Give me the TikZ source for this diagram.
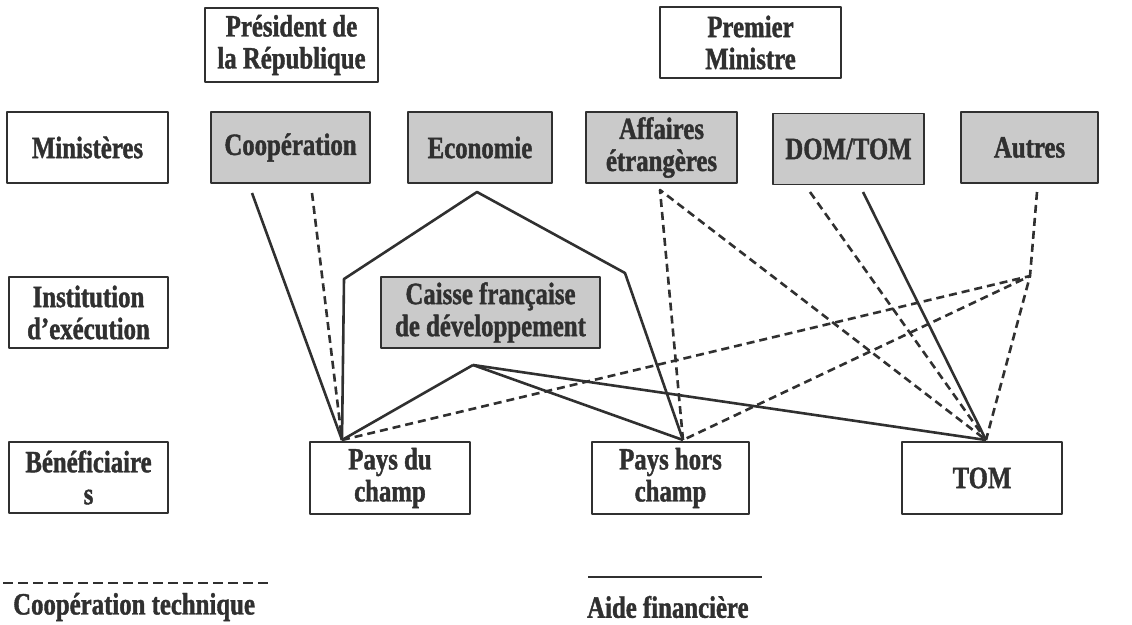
\documentclass[tikz,border=0pt]{standalone}
\usepackage{fontspec}
\setmainfont{Liberation Serif}[FakeStretch=0.8, BoldFeatures={FakeBold=1.3}]
\usepackage{tikz}
\usetikzlibrary{positioning}
\definecolor{boxgray}{RGB}{202,202,202}
\definecolor{linegray}{RGB}{48,48,48}

\tikzset{
  kasten/.style={draw=linegray, line width=1.4pt, align=center, inner sep=2pt,
    minimum height=71pt, text=linegray, font=\fontsize{31}{32}\selectfont\bfseries},
  grau/.style={kasten, fill=boxgray},
  tech/.style={draw=linegray, line width=2.6pt, dash pattern=on 8pt off 5pt},
  fin/.style={draw=linegray, line width=2.6pt},
  legtext/.style={text=linegray, inner sep=0pt, font=\fontsize{31}{32}\selectfont\bfseries}
}

\begin{document}
\begin{tikzpicture}[x=1pt, y=-1pt, line join=round]
  \useasboundingbox (0,0) rectangle (1132,624);
  % Spitze
  \node[kasten, minimum width=173pt, minimum height=74pt] (praes) at (291.5,45) {Président de\\la République};
  \node[kasten, minimum width=181pt] (pm) at (750.5,42.5) {Premier\\Ministre};
  % Zeilen links
  \node[kasten, minimum width=161pt] (lmin) at (87.5,147.5) {Ministères};
  \node[kasten, minimum width=159pt] (linst) at (88.5,312.5) {Institution\\d’exécution};
  \node[kasten, minimum width=159pt] (lbenef) at (88.5,477.5) {Bénéficiaire\\s};
  % Ministerien
  \node[grau, minimum width=159pt] (coop) at (290.5,147.5) {Coopération};
  \node[grau, minimum width=144pt] (eco) at (480,147.5) {Economie};
  \node[grau, minimum width=151pt] (ae) at (661.5,147.5) {Affaires\\étrangères};
  \node[grau, minimum width=151pt] (dom) at (848.5,149) {DOM/TOM};
  \node[grau, minimum width=137pt] (autres) at (1029.5,147.5) {Autres};
  % Institution
  \node[grau, minimum width=219pt] (cfd) at (490.5,312.5) {Caisse française\\de développement};
  % Empfaenger
  \node[kasten, minimum width=160pt, minimum height=72pt] (pdc) at (390,478) {Pays du\\champ};
  \node[kasten, minimum width=157pt, minimum height=72pt] (phc) at (670.5,478) {Pays hors\\champ};
  \node[kasten, minimum width=160pt, minimum height=72pt] (tom) at (982,478) {TOM};
  % Anschlusspunkte
  \coordinate (coopA) at (252,193);
  \coordinate (coopB) at (312,193);
  \coordinate (ecoA) at (477,192);
  \coordinate (ecoL) at (344,279);
  \coordinate (ecoR) at (625,273);
  \coordinate (aeA) at (660,190);
  \coordinate (domA) at (810,192);
  \coordinate (domB) at (863,192);
  \coordinate (autA) at (1037,192);
  \coordinate (autK) at (1030,276);
  \coordinate (cfdA) at (473,365);
  \coordinate (pdcT) at (342,440);
  \coordinate (phcT) at (683,440);
  \coordinate (tomT) at (986,440);
  % Aide financiere
  \draw[fin] (coopA) -- (pdcT);
  \draw[fin] (pdcT) -- (ecoL) -- (ecoA) -- (ecoR) -- (phcT);
  \draw[fin] (domB) -- (tomT);
  \foreach \z in {pdcT, phcT, tomT} \draw[fin] (cfdA) -- (\z);
  % Cooperation technique
  \draw[tech] (coopB) -- (pdcT);
  \draw[tech] (phcT) -- (aeA) -- (tomT);
  \draw[tech] (domA) -- (tomT);
  \draw[tech] (autA) -- (autK) -- (tomT);
  \draw[tech] (pdcT) -- (autK) -- (phcT);
  % Legende
  \coordinate (legTa) at (3,583);
  \coordinate (legTb) at (270,583);
  \coordinate (legFa) at (588,577);
  \coordinate (legFb) at (762,577);
  \draw[tech, line width=2.2pt, dash pattern=on 10pt off 5pt] (legTa) -- (legTb);
  \draw[fin] (legFa) -- (legFb);
  \node[legtext, anchor=west] (legT) at (13,607) {Coopération technique};
  \node[legtext, anchor=west] (legF) at (587,607) {Aide financière};
\end{tikzpicture}
\end{document}
